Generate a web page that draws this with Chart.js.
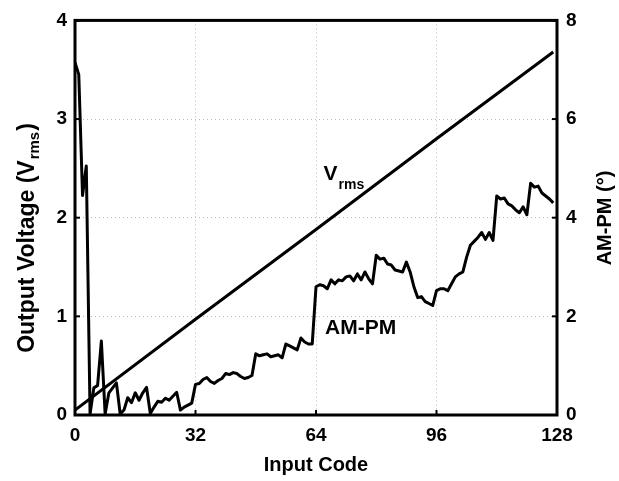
<!DOCTYPE html>
<html>
<head>
<meta charset="utf-8">
<script src="https://cdn.jsdelivr.net/npm/chart.js@4.4.1/dist/chart.umd.min.js"></script>
<style>
  html, body { margin: 0; padding: 0; background: #fff; }
  #wrap { width: 619px; height: 481px; }
</style>
</head>
<body>
<div id="wrap"><canvas id="c" width="619" height="481"></canvas></div>
<script>
// ---- data ----
const codeTicks = [0, 32, 64, 96, 128];
const voltTicks = [0, 1, 2, 3, 4];
const degTicks = [0, 2, 4, 6, 8];

// Output voltage (Vrms) vs input code (straight line)
const vrmsCodes = [0, 32, 64, 96, 127];
const vrmsValues = [0.05, 0.97, 1.88, 2.80, 3.68];

// AM-PM (degrees), one value per input code 0..127
const ampmDeg = [
  7.15, 6.9, 4.45, 5.05, 0.02, 0.55, 0.6, 1.5, 0.02, 0.45,
  0.55, 0.65, 0.02, 0.1, 0.35, 0.25, 0.45, 0.3, 0.45, 0.56,
  0.03, 0.16, 0.28, 0.26, 0.34, 0.3, 0.38, 0.46, 0.1, 0.16,
  0.2, 0.24, 0.62, 0.64, 0.72, 0.76, 0.68, 0.64, 0.7, 0.74,
  0.84, 0.82, 0.86, 0.84, 0.78, 0.74, 0.76, 0.8, 1.24, 1.2,
  1.22, 1.24, 1.18, 1.2, 1.22, 1.16, 1.44, 1.4, 1.36, 1.32,
  1.56, 1.48, 1.44, 1.44, 2.6, 2.64, 2.62, 2.56, 2.74, 2.66,
  2.74, 2.72, 2.8, 2.82, 2.72, 2.86, 2.74, 2.9, 2.76, 2.66,
  3.24, 3.16, 3.18, 3.06, 3.04, 2.94, 2.92, 2.9, 3.1, 2.9,
  2.6, 2.38, 2.4, 2.3, 2.26, 2.22, 2.52, 2.56, 2.56, 2.52,
  2.66, 2.8, 2.86, 2.9, 3.2, 3.44, 3.52, 3.6, 3.7, 3.56,
  3.7, 3.54, 4.44, 4.38, 4.4, 4.28, 4.24, 4.16, 4.1, 4.22,
  4.06, 4.7, 4.62, 4.64, 4.5, 4.44, 4.38, 4.3
];

const xTitle = 'Input Code';
const yTitleMain = 'Output Voltage (V';
const yTitleSub = 'rms';
const yTitleEnd = ')';
const y1Title = 'AM-PM (\u00B0)';

// ---- build datasets ----
const vrmsPoints = vrmsCodes.map((c, i) => ({ x: c, y: vrmsValues[i] }));
const ampmPoints = ampmDeg.map((d, i) => ({ x: i, y: d }));

const FONT = '"Liberation Sans", Arial, Helvetica, sans-serif';

const decorPlugin = {
  id: 'decor',
  afterDraw(chart) {
    const { ctx, chartArea: a, scales } = chart;
    const xs = scales.x, ys = scales.y, y1 = scales.y1;
    ctx.save();
    // inward tick marks
    ctx.strokeStyle = '#000';
    ctx.lineWidth = 2;
    const tl = 5;
    codeTicks.forEach(v => {
      const px = xs.getPixelForValue(v);
      ctx.beginPath();
      ctx.moveTo(px, a.bottom); ctx.lineTo(px, a.bottom - tl);
      ctx.stroke();
    });
    voltTicks.forEach(v => {
      const py = ys.getPixelForValue(v);
      ctx.beginPath();
      ctx.moveTo(a.left, py); ctx.lineTo(a.left + tl, py);
      ctx.stroke();
    });
    degTicks.forEach(v => {
      const py = y1.getPixelForValue(v);
      ctx.beginPath();
      ctx.moveTo(a.right, py); ctx.lineTo(a.right - tl, py);
      ctx.stroke();
    });
    // frame
    ctx.lineWidth = 3;
    ctx.strokeRect(a.left, a.top, a.right - a.left, a.bottom - a.top);

    ctx.fillStyle = '#000';
    // x title
    ctx.font = 'bold 20px ' + FONT;
    ctx.textAlign = 'center';
    ctx.textBaseline = 'middle';
    ctx.fillText(xTitle, (a.left + a.right) / 2, 465);

    // left title with subscript
    ctx.save();
    ctx.translate(26, 238);
    ctx.rotate(-Math.PI / 2);
    const mainF = 'bold 23px ' + FONT, subF = 'bold 15px ' + FONT;
    ctx.font = mainF; const w1 = ctx.measureText(yTitleMain).width;
    const w3 = ctx.measureText(yTitleEnd).width;
    ctx.font = subF; const w2 = ctx.measureText(yTitleSub).width;
    const tot = w1 + w2 + w3 + 2;
    let sx = -tot / 2;
    ctx.textAlign = 'left';
    ctx.textBaseline = 'alphabetic';
    ctx.font = mainF; ctx.fillText(yTitleMain, sx, 8); sx += w1 + 1;
    ctx.font = subF; ctx.fillText(yTitleSub, sx, 13); sx += w2 + 1;
    ctx.font = mainF; ctx.fillText(yTitleEnd, sx, 8);
    ctx.restore();

    // right title
    ctx.save();
    ctx.translate(605, 218);
    ctx.rotate(-Math.PI / 2);
    ctx.font = 'bold 20px ' + FONT;
    ctx.textAlign = 'center';
    ctx.textBaseline = 'middle';
    ctx.fillText(y1Title, 0, 0);
    ctx.restore();

    // in-plot labels
    ctx.textAlign = 'left';
    ctx.textBaseline = 'alphabetic';
    const vx = xs.getPixelForValue(66), vy = ys.getPixelForValue(2.38);
    ctx.font = 'bold 21px ' + FONT;
    ctx.fillText('V', vx, vy);
    const vw = ctx.measureText('V').width;
    ctx.font = 'bold 14px ' + FONT;
    ctx.fillText('rms', vx + vw + 1, vy + 9);
    ctx.font = 'bold 21px ' + FONT;
    ctx.fillText('AM-PM', xs.getPixelForValue(66.4), ys.getPixelForValue(0.82));
    ctx.restore();
  }
};

new Chart(document.getElementById('c'), {
  type: 'line',
  data: {
    datasets: [
      { label: 'Vrms', data: vrmsPoints, yAxisID: 'y', borderColor: '#000',
        borderWidth: 3, pointRadius: 0, tension: 0, fill: false },
      { label: 'AM-PM', data: ampmPoints, yAxisID: 'y1', borderColor: '#000',
        borderWidth: 3, pointRadius: 0, tension: 0, fill: false,
        borderJoinStyle: 'round' }
    ]
  },
  plugins: [decorPlugin],
  options: {
    responsive: false,
    animation: false,
    devicePixelRatio: 1,
    layout: { padding: { top: 15, left: 0, right: 0, bottom: 0 } },
    plugins: { legend: { display: false }, tooltip: { enabled: false } },
    scales: {
      x: {
        type: 'linear', min: 0, max: 128,
        afterBuildTicks: s => { s.ticks = codeTicks.map(v => ({ value: v })); },
        afterFit: s => { s.height = 66; },
        ticks: { color: '#000', font: { family: FONT, size: 19, weight: 'bold' }, padding: 9, maxRotation: 0 },
        grid: { color: '#b8b8b8', lineWidth: 1, drawTicks: false },
        border: { display: false, dash: [1, 3] }
      },
      y: {
        type: 'linear', position: 'left', min: 0, max: 4,
        afterBuildTicks: s => { s.ticks = voltTicks.map(v => ({ value: v })); },
        afterFit: s => { s.width = 75; },
        ticks: { color: '#000', font: { family: FONT, size: 19, weight: 'bold' }, padding: 8 },
        grid: { color: '#b8b8b8', lineWidth: 1, drawTicks: false },
        border: { display: false, dash: [1, 3] }
      },
      y1: {
        type: 'linear', position: 'right', min: 0, max: 8,
        afterBuildTicks: s => { s.ticks = degTicks.map(v => ({ value: v })); },
        afterFit: s => { s.width = 62; },
        ticks: { color: '#000', font: { family: FONT, size: 19, weight: 'bold' }, padding: 9 },
        grid: { display: false, drawTicks: false },
        border: { display: false }
      }
    }
  }
});
</script>
</body>
</html>
